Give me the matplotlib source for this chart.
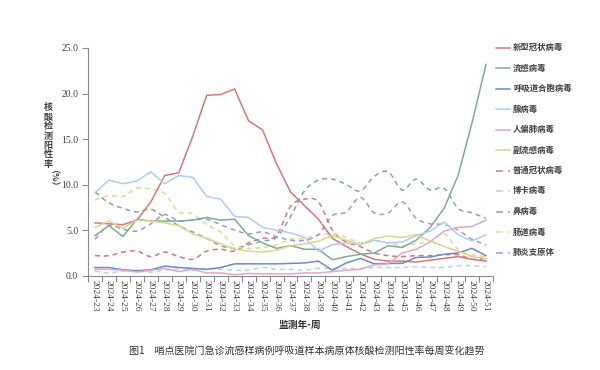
import matplotlib
matplotlib.use("Agg")
import matplotlib.pyplot as plt
import numpy as np
from matplotlib.path import Path
from matplotlib.patches import PathPatch
from matplotlib.lines import Line2D

plt.rcParams['font.family'] = ['Noto Sans CJK SC', 'DejaVu Sans']

weeks = ["2024-23", "2024-24", "2024-25", "2024-26", "2024-27", "2024-28", "2024-29",
         "2024-30", "2024-31", "2024-32", "2024-33", "2024-34", "2024-35", "2024-36",
         "2024-37", "2024-38", "2024-39", "2024-40", "2024-41", "2024-42", "2024-43",
         "2024-44", "2024-45", "2024-46", "2024-47", "2024-48", "2024-49", "2024-50",
         "2024-51"]

covid = [5.8, 5.7, 5.6, 6.1, 8.1, 11.0, 11.3, 15.3, 19.8, 19.9, 20.5, 17.0, 16.0, 12.3,
         9.2, 7.7, 6.2, 4.1, 3.2, 2.4, 1.8, 1.6, 1.6, 1.5, 1.7, 1.9, 2.1, 1.8, 1.6]
flu = [4.4, 5.5, 4.3, 6.2, 6.0, 6.0, 6.0, 6.1, 6.4, 6.1, 6.2, 4.4, 3.6, 3.0,
       3.3, 2.9, 2.9, 1.75, 2.1, 2.35, 2.5, 3.3, 3.1, 3.9, 5.3, 7.4, 11.0, 16.8, 23.2]
rsv = [0.9, 0.9, 0.65, 0.55, 0.65, 1.05, 0.9, 0.8, 0.7, 0.9, 1.3, 1.3, 1.3, 1.3,
       1.35, 1.4, 1.6, 0.6, 1.4, 1.9, 1.3, 1.35, 1.35, 2.0, 2.05, 2.35, 2.5, 3.0, 2.2]
adeno = [9.1, 10.5, 10.1, 10.4, 11.4, 10.1, 11.0, 10.8, 8.7, 8.4, 6.5, 6.4, 5.3, 5.0,
         4.7, 4.2, 2.7, 3.4, 3.6, 3.4, 3.9, 3.6, 3.7, 4.4, 4.9, 5.9, 4.5, 3.8, 4.5]
hmpv = [0.7, 0.7, 0.6, 0.4, 0.6, 0.8, 0.45, 0.7, 0.3, 0.3, 0.1, 0.25, 0.2, 0.2,
        0.2, 0.3, 0.3, 0.45, 0.6, 0.7, 1.2, 1.3, 2.5, 2.9, 3.7, 4.9, 5.3, 5.4, 6.1]
paraflu = [5.3, 6.0, 5.2, 6.1, 6.0, 5.8, 5.5, 4.6, 4.1, 3.5, 2.9, 2.7, 2.6, 2.8,
           3.3, 3.5, 3.8, 4.4, 3.9, 3.4, 4.1, 4.35, 4.2, 4.5, 3.8, 3.2, 2.7, 2.1, 1.9]
hcov = [2.2, 2.2, 2.6, 2.7, 2.1, 2.6, 2.1, 1.8, 2.7, 2.9, 2.7, 3.6, 4.1, 4.4,
        7.6, 8.4, 8.1, 5.0, 3.7, 3.2, 2.5, 2.2, 2.1, 2.2, 2.2, 2.3, 2.3, 1.8, 1.9]
boca = [0.5, 0.3, 0.5, 0.5, 0.4, 0.6, 0.7, 0.6, 0.8, 0.7, 0.6, 0.6, 0.9, 0.7,
        0.7, 0.6, 0.8, 0.8, 0.8, 0.8, 0.9, 0.9, 0.9, 1.0, 0.9, 0.9, 1.1, 1.1, 1.0]
rhino = [9.2, 8.0, 7.4, 7.0, 7.3, 6.4, 5.5, 4.8, 4.1, 3.3, 3.0, 3.4, 3.8, 4.2,
         6.5, 9.3, 10.5, 10.6, 10.0, 9.3, 10.9, 11.4, 9.4, 10.6, 9.4, 9.6, 7.4, 6.9, 6.3]
entero = [8.3, 8.8, 8.7, 9.6, 9.5, 9.0, 7.0, 6.8, 5.6, 4.8, 3.3, 3.0, 3.1, 3.4,
          4.0, 4.1, 4.5, 4.6, 4.2, 3.6, 3.8, 3.6, 3.3, 3.5, 3.8, 4.6, 2.9, 2.3, 2.1]
myco = [4.0, 5.5, 5.1, 4.9, 5.7, 6.7, 6.0, 6.1, 6.2, 5.6, 5.0, 4.6, 4.8, 4.3,
        3.9, 3.9, 4.5, 6.6, 7.0, 8.6, 6.9, 6.9, 8.1, 6.3, 5.7, 5.6, 5.0, 4.0, 3.4]

labels = ["新型冠状病毒", "流感病毒", "呼吸道合胞病毒", "腺病毒", "人偏肺病毒", "副流感病毒",
          "普通冠状病毒", "博卡病毒", "鼻病毒", "肠道病毒", "肺炎支原体"]
series = [covid, flu, rsv, adeno, hmpv, paraflu, hcov, boca, rhino, entero, myco]
colors = ["#D47876", "#7FAA98", "#6A8CC6", "#AECDEE", "#E2A6C6", "#DAD492",
          "#D87474", "#B4D2F0", "#7FAA98", "#DCDA94", "#A892D2"]
dashed = [False] * 6 + [True] * 5

fig = plt.figure(figsize=(6, 3.7), dpi=100)
ax = fig.add_axes([88 / 600, 1 - 275.7 / 370, (493 - 88) / 600, (275.7 - 48) / 370])

x = np.arange(len(weeks))
LW = 1.1
DASH = (0, (3.2, 2.6))


def smooth_path(xs, ys):
    pts = np.column_stack([xs, ys]).astype(float)
    n = len(pts)
    verts = [pts[0]]
    codes = [Path.MOVETO]
    for i in range(n - 1):
        p0 = pts[i - 1] if i > 0 else pts[i]
        p1 = pts[i]
        p2 = pts[i + 1]
        p3 = pts[i + 2] if i + 2 < n else pts[i + 1]
        c1 = p1 + (p2 - p0) / 6.0
        c2 = p2 - (p3 - p1) / 6.0
        verts += [c1, c2, p2]
        codes += [Path.CURVE4] * 3
    return Path(verts, codes)


for vals, col, d in zip(series, colors, dashed):
    if d:
        patch = PathPatch(smooth_path(x, vals), fill=False, edgecolor=col, lw=LW,
                          linestyle=DASH, capstyle='butt')
        ax.add_patch(patch)
    else:
        ax.plot(x, vals, color=col, lw=LW, solid_joinstyle='miter')

ax.set_xlim(-0.5, len(weeks) - 0.5)
ax.set_ylim(0, 25)
ax.set_yticks([0, 5, 10, 15, 20, 25])
ax.set_yticklabels(["%.1f" % v for v in [0, 5, 10, 15, 20, 25]],
                   family=['Liberation Serif'], fontsize=7, color='#404040')
ax.set_xticks(x)
ax.set_xticklabels(weeks, rotation=-90, family=['Liberation Serif'], fontsize=6.8,
                   color='#404040')
ax.set_xticks(np.arange(-0.5, len(weeks), 1.0), minor=True)
ax.tick_params(axis='x', which='major', length=0, pad=3)
ax.tick_params(axis='x', which='minor', length=4, width=0.8, color='#8a8a8a')
ax.tick_params(axis='y', length=4, width=0.8, color='#8a8a8a', pad=3)
for s in ['top', 'right']:
    ax.spines[s].set_visible(False)
for s in ['left', 'bottom']:
    ax.spines[s].set_color('#8a8a8a')
    ax.spines[s].set_linewidth(0.8)

# y label: stacked characters
ylab = "核\n酸\n检\n测\n阳\n性\n率"
fig.text(48 / 600, 1 - 136 / 370, ylab, ha='center', va='center', fontsize=6.5,
         color='#404040', linespacing=1.05, fontweight='bold')
fig.text(48 / 600, 1 - 182 / 370, "（%）", ha='center', va='center', fontsize=6.5,
         color='#404040', rotation=-90, fontweight='bold')

fig.text(300 / 600, 1 - 325 / 370, "监测年-周", ha='center', va='center', fontsize=7,
         fontweight='bold', color='#303030')
fig.text(307 / 600, 1 - 352 / 370,
         "图1　哨点医院门急诊流感样病例呼吸道样本病原体核酸检测阳性率每周变化趋势",
         ha='center', va='center', fontsize=7.2, color='#303030')

# legend
for k, (lab, col, d) in enumerate(zip(labels, colors, dashed)):
    yy = 1 - (47.5 + 20.5 * k) / 370
    ln = Line2D([496 / 600, 510 / 600], [yy, yy], transform=fig.transFigure,
                color=col, lw=LW, linestyle=(0, (4.5, 3.5)) if d else '-')
    fig.add_artist(ln)
    fig.text(513 / 600, yy, lab, ha='left', va='center', fontsize=6, color='#404040',
             fontweight='bold')

fig.savefig("out.png", dpi=100)
